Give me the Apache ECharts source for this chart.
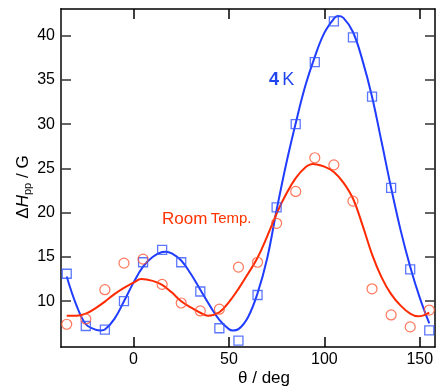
<!DOCTYPE html>
<html>
<head>
<meta charset="utf-8">
<script src="https://cdn.jsdelivr.net/npm/echarts@6/dist/echarts.min.js"></script>
<style>
html,body{margin:0;padding:0;background:#fff;}
#chart{width:439px;height:390px;}
</style>
</head>
<body>
<div id="chart"></div>
<script>
// Measured points
var angles = [-35,-25,-15,-5,5,15,25,35,45,55,65,75,85,95,105,115,125,135,145,155];
var k4Values = [13.1,7.2,6.8,10.0,14.4,15.8,14.4,11.1,6.95,5.55,10.7,20.6,30.0,37.0,41.6,39.8,33.1,22.8,13.6,6.7];
var rtValues = [7.4,8.0,11.3,14.3,14.75,11.9,9.8,8.9,9.1,13.85,14.4,18.8,22.4,26.2,25.4,21.3,11.4,8.45,7.1,9.0];

// Fitted curves
var k4FitX = [-35,-30,-25,-20,-17,-15,-10,-5,0,5,10,15,17,20,25,30,35,40,45,50,52,55,60,65,70,75,80,85,90,95,100,105,107,110,115,120,125,130,135,140,145,150,155];
var k4FitY = [12.8,9.6,7.4,6.8,6.7,6.8,8.0,10.0,12.1,13.9,15.0,15.55,15.6,15.4,14.6,13.1,11.3,9.5,7.9,6.85,6.7,6.85,8.2,10.9,14.8,20.3,25.5,30.1,34.3,37.6,40.3,41.9,42.2,42.0,40.4,37.2,33.1,28.0,22.8,18.0,13.9,10.4,7.5];
var rtFitX = [-35,-30,-25,-20,-15,-10,-5,0,4,10,15,20,25,30,35,39,45,50,55,60,65,70,75,80,85,90,94,100,105,110,115,120,125,130,135,140,145,149,152,155];
var rtFitY = [8.35,8.35,8.6,9.2,9.95,10.8,11.5,12.1,12.5,12.3,11.85,11.0,10.0,9.3,8.7,8.35,8.75,9.9,11.4,13.1,14.9,17.3,19.9,22.1,23.9,25.1,25.5,25.2,24.6,23.4,21.6,18.6,15.3,12.7,10.8,9.5,8.6,8.3,8.4,8.7];

var xTicks = [0,50,100,150];
var yTicks = [10,15,20,25,30,35,40];

function zip(a,b){var r=[];for(var i=0;i<a.length;i++)r.push([a[i],b[i]]);return r;}

var BLUE_LINE = '#1f3cff', BLUE_MARK = '#3355ff';
var RED_LINE = '#ff2a00', RED_MARK = '#ff5533';
var NUMFONT = '"Liberation Sans Narrow", "Liberation Sans", Arial, sans-serif';
var FONT = '"Liberation Sans", Arial, sans-serif';

var chart = echarts.init(document.getElementById('chart'), null, {renderer:'canvas'});
var xMin = -38, xMax = 158, yMin = 4.83, yMax = 43;

var option = {
  animation:false,
  grid:{left:61,right:4,top:9,bottom:43},
  xAxis:[
    {type:'value',position:'bottom',min:xMin,max:xMax,
     axisLine:{show:true,onZero:false,lineStyle:{color:'#000',width:1.5}},
     axisTick:{show:true,inside:true,length:10,customValues:xTicks,lineStyle:{color:'#000',width:1.5}},
     axisLabel:{show:true,customValues:xTicks,margin:5,fontSize:16,fontFamily:NUMFONT,color:'#000'},
     splitLine:{show:false}},
    {type:'value',position:'top',min:xMin,max:xMax,
     axisLine:{show:true,onZero:false,lineStyle:{color:'#000',width:1.5}},
     axisTick:{show:true,inside:true,length:10,customValues:xTicks,lineStyle:{color:'#000',width:1.5}},
     axisLabel:{show:false},splitLine:{show:false}}
  ],
  yAxis:[
    {type:'value',position:'left',min:yMin,max:yMax,
     axisLine:{show:true,onZero:false,lineStyle:{color:'#444',width:2}},
     axisTick:{show:true,inside:true,length:10,customValues:yTicks,lineStyle:{color:'#333',width:1.5}},
     axisLabel:{show:true,customValues:yTicks,margin:6,fontSize:16,fontFamily:NUMFONT,color:'#000'},
     splitLine:{show:false}},
    {type:'value',position:'right',min:yMin,max:yMax,
     axisLine:{show:true,onZero:false,lineStyle:{color:'#000',width:1.5}},
     axisTick:{show:true,inside:true,length:10,customValues:yTicks,lineStyle:{color:'#333',width:1.5}},
     axisLabel:{show:false},splitLine:{show:false}}
  ],
  series:[
    {type:'line',name:'4K fit',data:zip(k4FitX,k4FitY),smooth:0.4,symbol:'none',
     lineStyle:{color:BLUE_LINE,width:2},z:2},
    {type:'line',name:'RT fit',data:zip(rtFitX,rtFitY),smooth:0.4,symbol:'none',
     lineStyle:{color:RED_LINE,width:2},z:2},
    {type:'scatter',name:'4K',data:zip(angles,k4Values),symbol:'rect',symbolSize:9,
     itemStyle:{color:'rgba(255,255,255,0)',borderColor:BLUE_MARK,borderWidth:1.3},z:3},
    {type:'scatter',name:'RT',data:zip(angles,rtValues),symbol:'circle',symbolSize:10,
     itemStyle:{color:'rgba(255,255,255,0)',borderColor:RED_MARK,borderWidth:1.2},z:3}
  ],
  graphic:[
    {type:'text',x:269,y:80,style:{text:'{a|4} {b|K}',align:'left',verticalAlign:'middle',
      rich:{a:{fontSize:18,fontWeight:'bold',fontFamily:FONT,fill:'#2244ee'},
            b:{fontSize:18,fontFamily:FONT,fill:'#2244ee'}}}},
    {type:'text',x:162,y:219,style:{text:'{a|Room} {b|Temp.}',align:'left',verticalAlign:'middle',
      rich:{a:{fontSize:17,fontFamily:FONT,fill:'#ff3300'},
            b:{fontSize:15,fontFamily:FONT,fill:'#ff3300'}}}},
    {type:'text',x:264,y:378,style:{text:'\u03b8 / deg',align:'center',verticalAlign:'middle',
      fontSize:17,fontFamily:FONT,fill:'#000'}},
    {type:'text',x:23,y:187,rotation:Math.PI/2,style:{text:'{a|\u0394}{i|H}{s|pp}{a| / G}',align:'center',verticalAlign:'middle',
      rich:{a:{fontSize:17,fontFamily:FONT,fill:'#000',lineHeight:20},
            i:{fontSize:17,fontStyle:'italic',fontFamily:FONT,fill:'#000',lineHeight:20},
            s:{fontSize:11,fontFamily:FONT,fill:'#000',lineHeight:11,verticalAlign:'bottom'}}}}
  ]
};
chart.setOption(option);
</script>
</body>
</html>
